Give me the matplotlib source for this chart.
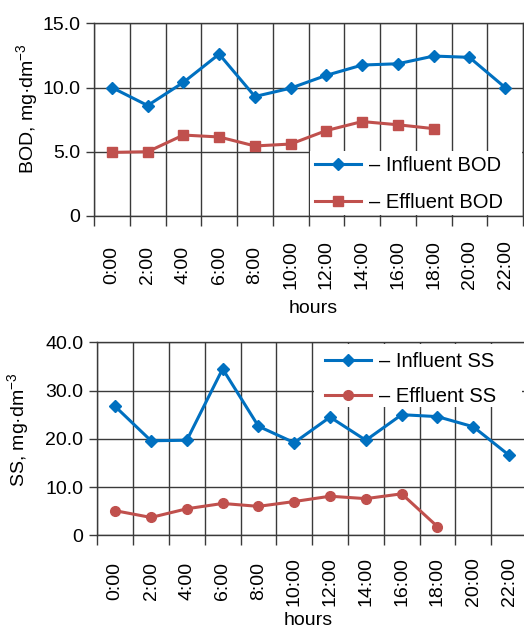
import matplotlib
matplotlib.use('Agg')
import matplotlib.pyplot as plt
from matplotlib.patches import Rectangle
import numpy as np

plt.rcParams['font.family'] = ['Liberation Sans', 'DejaVu Sans']
plt.rcParams['mathtext.fontset'] = 'custom'
plt.rcParams['mathtext.rm'] = 'Liberation Sans'
plt.rcParams['mathtext.it'] = 'Liberation Sans:italic'
plt.rcParams['font.size'] = 14

hours = ['0:00', '2:00', '4:00', '6:00', '8:00', '10:00',
         '12:00', '14:00', '16:00', '18:00', '20:00', '22:00']
influent_bod = [10.0, 8.6, 10.4, 12.6, 9.3, 9.95, 10.95, 11.75, 11.85, 12.45, 12.35, 10.0]
effluent_bod = [4.95, 5.0, 6.3, 6.15, 5.45, 5.6, 6.65, 7.35, 7.1, 6.8]
influent_ss = [26.7, 19.6, 19.7, 34.5, 22.6, 19.2, 24.5, 19.7, 25.0, 24.6, 22.5, 16.6]
effluent_ss = [5.1, 3.7, 5.5, 6.6, 6.0, 7.0, 8.1, 7.6, 8.6, 1.8]

blue = '#0070C0'
red = '#C0504D'
grid_c = '#3a3a3a'


def style_axes(ax, ymax, pad):
    n = len(hours)
    ax.set_xlim(0, n)
    ax.set_ylim(0, ymax)
    ax.set_xticks(np.arange(0, n + 1))
    ax.set_xticklabels([])
    ax.set_xticks(np.arange(n) + 0.5, minor=True)
    ax.set_xticklabels(hours, minor=True, rotation=90, va='center')
    ax.tick_params(axis='x', which='major', length=7, width=1, color=grid_c)
    ax.tick_params(axis='x', which='minor', length=0, pad=pad)
    ax.tick_params(axis='y', length=6, width=1, color=grid_c, pad=4)
    ax.grid(True, which='major', color=grid_c, lw=1)
    ax.set_axisbelow(True)
    for s in ax.spines.values():
        s.set_color(grid_c)
        s.set_linewidth(1)


fig = plt.figure(figsize=(5.24, 6.28), dpi=100)

# top: BOD
ax1 = fig.add_axes([0.1794, 0.6561, 0.8187, 0.3068])
x = np.arange(len(hours)) + 0.5
ax1.plot(x, influent_bod, color=blue, lw=2.2, marker='D', ms=6.5, label='– Influent BOD', zorder=3)
ax1.plot(x[:len(effluent_bod)], effluent_bod, color=red, lw=2.2, marker='s', ms=7,
         label='– Effluent BOD', zorder=3)
style_axes(ax1, 15, 35)
ax1.set_yticks([0, 5, 10, 15])
ax1.set_yticklabels(['0', '5.0', '10.0', '15.0'])
ax1.add_patch(Rectangle((0.504, 0.006), 0.494, 0.33, transform=ax1.transAxes,
                        facecolor='white', edgecolor='none', zorder=1))
ax1.legend(loc='upper left', bbox_to_anchor=(0.515, 0.309), frameon=False,
           borderpad=0, borderaxespad=0, handlelength=2.3, handletextpad=0.4,
           labelspacing=0.85, fontsize=14.5)
ax1.set_xlabel('hours', va='center')
ax1.xaxis.set_label_coords(0.51, -0.48)
ax1.set_ylabel(r'BOD, mg·dm$^{-3}$', va='center', ha='center')
ax1.yaxis.set_label_coords(-0.156, 0.56)

# bottom: SS
ax2 = fig.add_axes([0.1857, 0.1476, 0.820, 0.3073])
ax2.plot(x, influent_ss, color=blue, lw=2.2, marker='D', ms=6.5, label='– Influent SS', zorder=3)
ax2.plot(x[:len(effluent_ss)], effluent_ss, color=red, lw=2.2, marker='o', ms=7,
         label='– Effluent SS', zorder=3)
style_axes(ax2, 40, 33)
ax2.set_yticks([0, 10, 20, 30, 40])
ax2.set_yticklabels(['0', '10.0', '20.0', '30.0', '40.0'])
ax2.add_patch(Rectangle((0.504, 0.665), 0.484, 0.325, transform=ax2.transAxes,
                        facecolor='white', edgecolor='none', zorder=1))
ax2.legend(loc='upper left', bbox_to_anchor=(0.53, 0.949), frameon=False,
           borderpad=0, borderaxespad=0, handlelength=2.3, handletextpad=0.4,
           labelspacing=0.8, fontsize=14.5)
ax2.set_xlabel('hours', va='center')
ax2.xaxis.set_label_coords(0.49, -0.439)
ax2.set_ylabel(r'SS, mg·dm$^{-3}$', va='center', ha='center')
ax2.yaxis.set_label_coords(-0.185, 0.546)

fig.savefig('out.png', dpi=100)
